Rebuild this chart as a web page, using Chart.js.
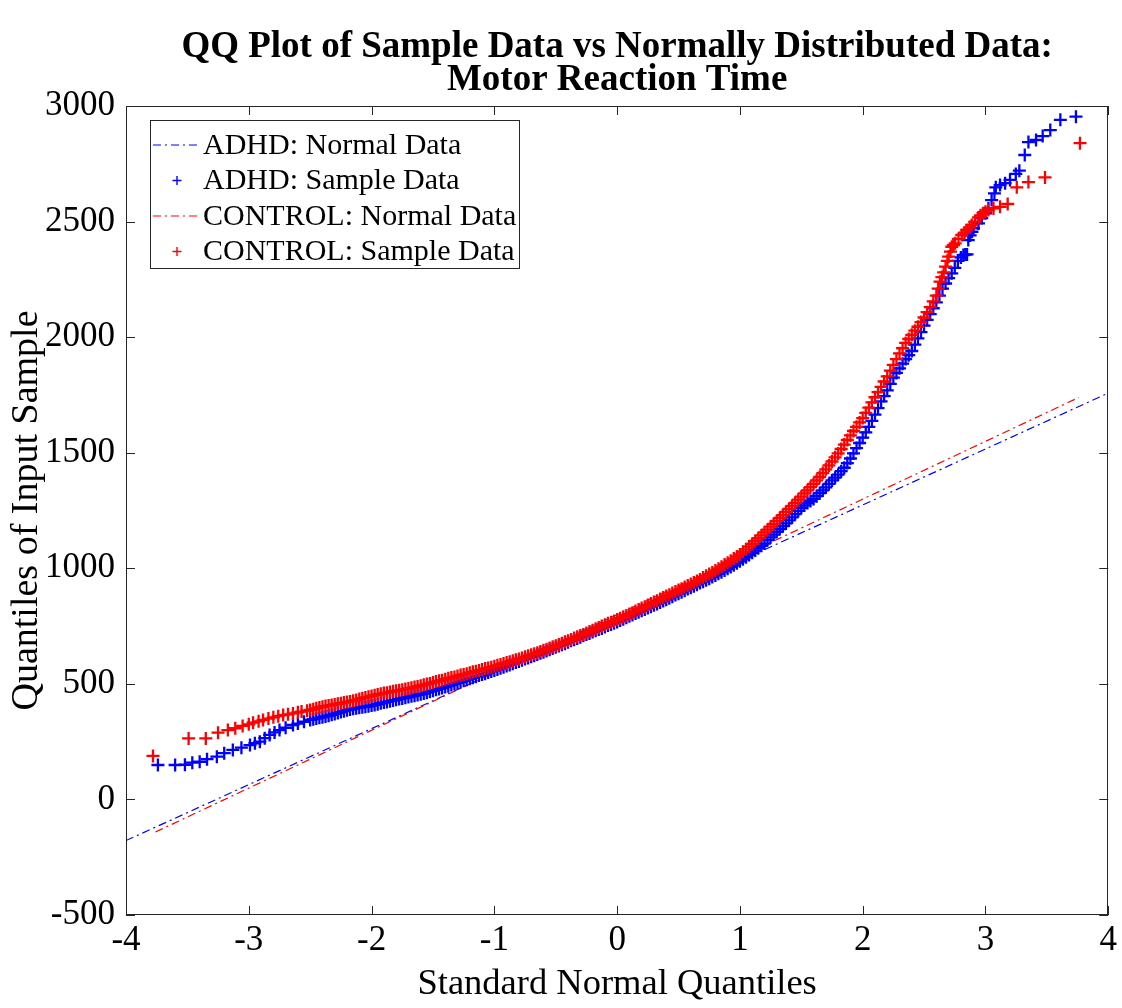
<!DOCTYPE html>
<html><head><meta charset="utf-8">
<script src="https://cdn.jsdelivr.net/npm/chart.js@4/dist/chart.umd.min.js"></script>
<style>html,body{margin:0;padding:0;background:#fff}#wrap{width:1122px;height:1008px;position:relative}</style>
</head><body><div id="wrap"><canvas id="c" width="1122" height="1008"></canvas></div>
<script>
// ---------- DATA ----------
const titleLines = ["QQ Plot of Sample Data vs Normally Distributed Data:", "Motor Reaction Time"];
const xAxisTitle = "Standard Normal Quantiles";
const yAxisTitle = "Quantiles of Input Sample";
const xTickValues = [-4, -3, -2, -1, 0, 1, 2, 3, 4];
const xTickLabels = ["-4", "-3", "-2", "-1", "0", "1", "2", "3", "4"];
const yTickValues = [-500, 0, 500, 1000, 1500, 2000, 2500, 3000];
const yTickLabels = ["-500", "0", "500", "1000", "1500", "2000", "2500", "3000"];
const seriesLabels = ["ADHD: Normal Data", "ADHD: Sample Data", "CONTROL: Normal Data", "CONTROL: Sample Data"];

// Reference (normal) lines
const adhdLineX = [-4, 4];
const adhdLineY = [-178, 1758];
const controlLineX = [-3.76, 3.76];
const controlLineY = [-141, 1739];

// ADHD sample quantiles (lower tail, body, upper part)
const adhdLowX = [-3.74,-3.60,-3.52,-3.46,-3.40,-3.34,-3.26,-3.20,-3.13,-3.06,-2.99,-2.95,-2.91,-2.87,-2.83,-2.79,-2.75,-2.70,-2.64,-2.60,-2.55,-2.50];
const adhdLowY = [149,149,150,159,163,174,185,200,214,224,235,243,250,265,279,290,300,310,322,328,336,344];
const adhdBodyX = [
-2.475,-2.45,-2.425,-2.40,-2.375,-2.35,-2.325,-2.30,-2.275,-2.25,
-2.225,-2.20,-2.175,-2.15,-2.125,-2.10,-2.075,-2.05,-2.025,-2.00,
-1.975,-1.95,-1.925,-1.90,-1.875,-1.85,-1.825,-1.80,-1.775,-1.75,
-1.725,-1.70,-1.675,-1.65,-1.625,-1.60,-1.575,-1.55,-1.525,-1.50,
-1.475,-1.45,-1.425,-1.40,-1.375,-1.35,-1.325,-1.30,-1.275,-1.25,
-1.225,-1.20,-1.175,-1.15,-1.125,-1.10,-1.075,-1.05,-1.025,-1.00,
-0.975,-0.95,-0.925,-0.90,-0.875,-0.85,-0.825,-0.80,-0.775,-0.75,
-0.725,-0.70,-0.675,-0.65,-0.625,-0.60,-0.575,-0.55,-0.525,-0.50,
-0.475,-0.45,-0.425,-0.40,-0.375,-0.35,-0.325,-0.30,-0.275,-0.25,
-0.225,-0.20,-0.175,-0.15,-0.125,-0.10,-0.075,-0.05,-0.025,0.00,
0.025,0.05,0.075,0.10,0.125,0.15,0.175,0.20,0.225,0.25,
0.275,0.30,0.325,0.35,0.375,0.40,0.425,0.45,0.475,0.50,
0.525,0.55,0.575,0.60,0.625,0.65,0.675,0.70,0.725,0.75,
0.775,0.80,0.825,0.85,0.875,0.90,0.925,0.95,0.975,1.00,
1.025,1.05,1.075,1.10,1.125,1.15,1.175,1.20];
const adhdBodyY = [
347,350,353,356,359,362,366,370,374,378,
382,386,389,392,395,397,399,401,403,406,
409,412,416,419,422,425,428,431,434,437,
440,443,446,449,452,455,458,462,466,470,
474,478,482,486,490,495,500,504,508,513,
518,522,526,531,536,540,544,549,554,558,
562,567,572,577,582,587,592,597,602,607,
612,617,622,627,632,637,642,648,653,658,
664,669,674,680,686,691,696,702,708,713,
718,724,730,735,740,746,752,757,762,768,
774,780,786,792,798,804,810,816,822,828,
834,840,846,852,858,864,870,877,884,890,
896,903,910,916,922,929,936,942,948,955,
962,969,976,983,990,998,1006,1013,1022,1030,
1039,1048,1058,1067,1077,1087,1097,1107];
const adhdHighX = [
1.225,1.25,1.275,1.30,1.325,1.35,1.375,1.40,1.425,1.45,
1.475,1.50,1.525,1.55,1.575,1.60,1.625,1.65,1.675,1.70,
1.725,1.75,1.775,1.80,1.825,1.85,1.875,1.90,1.925,1.95,
1.975,2.00,2.025,2.05,2.075,2.10,2.125,2.15,2.175,2.20,
2.225,2.25,2.275,2.30,2.325,2.35,2.375,2.40,2.425,2.45,
2.475,2.50,2.525,2.55,2.575,2.60,2.625,2.65,2.675,2.70,
2.725,2.75,2.775,
2.80,2.82,2.835,2.85,2.86,2.875,2.89,2.902,2.943,2.97,3.00,3.024,3.05,3.073,3.084,3.119,3.16,3.20,3.247,3.276,3.32,3.35,3.412,3.466,3.528,3.61,3.737];
const adhdHighY = [
1122,1134,1146,1158,1170,1182,1194,1207,1220,1234,
1248,1262,1272,1282,1291,1300,1312,1325,1337,1350,
1365,1380,1392,1405,1420,1435,1455,1475,1497,1520,
1542,1565,1588,1612,1638,1665,1693,1722,1745,1770,
1798,1825,1845,1865,1885,1905,1922,1940,1968,1995,
2022,2050,2075,2100,2125,2150,2180,2210,2232,2255,
2276,2300,2330,
2345,2355,2357,2358,2420,2440,2456,2471,2492,2515,2536,2557,2593,2622,2648,2658,2666,2680,2706,2720,2788,2844,2853,2870,2896,2940,2954];

// CONTROL sample quantiles (lower tail, body, upper part)
const controlLowX = [-3.78,-3.49,-3.35,-3.25,-3.17,-3.11,-3.05,-3.00,-2.965,-2.92,-2.884,-2.84,-2.80,-2.76,-2.72,-2.68,-2.64,-2.60,-2.57];
const controlLowY = [188,264,264,289,300,308,318,325,332,338,344,350,355,360,365,368,372,377,380];
const controlBodyX = [
-2.525,-2.50,-2.475,-2.45,-2.425,-2.40,-2.375,-2.35,-2.325,-2.30,
-2.275,-2.25,-2.225,-2.20,-2.175,-2.15,-2.125,-2.10,-2.075,-2.05,
-2.025,-2.00,-1.975,-1.95,-1.925,-1.90,-1.875,-1.85,-1.825,-1.80,
-1.775,-1.75,-1.725,-1.70,-1.675,-1.65,-1.625,-1.60,-1.575,-1.55,
-1.525,-1.50,-1.475,-1.45,-1.425,-1.40,-1.375,-1.35,-1.325,-1.30,
-1.275,-1.25,-1.225,-1.20,-1.175,-1.15,-1.125,-1.10,-1.075,-1.05,
-1.025,-1.00,-0.975,-0.95,-0.925,-0.90,-0.875,-0.85,-0.825,-0.80,
-0.775,-0.75,-0.725,-0.70,-0.675,-0.65,-0.625,-0.60,-0.575,-0.55,
-0.525,-0.50,-0.475,-0.45,-0.425,-0.40,-0.375,-0.35,-0.325,-0.30,
-0.275,-0.25,-0.225,-0.20,-0.175,-0.15,-0.125,-0.10,-0.075,-0.05,
-0.025,0.00,0.025,0.05,0.075,0.10,0.125,0.15,0.175,0.20,
0.225,0.25,0.275,0.30,0.325,0.35,0.375,0.40,0.425,0.45,
0.475,0.50,0.525,0.55,0.575,0.60,0.625,0.65,0.675,0.70,
0.725,0.75,0.775,0.80,0.825,0.85,0.875,0.90,0.925,0.95,
0.975,1.00,1.025,1.05,1.075,1.10,1.125,1.15,1.175,1.20];
const controlBodyY = [
384,387,390,394,398,401,404,406,408,411,
414,416,419,422,424,427,430,434,438,441,
444,448,451,454,457,460,462,465,468,470,
472,475,478,480,483,486,489,492,496,499,
502,506,510,513,516,520,524,527,530,534,
538,541,544,548,552,555,558,562,566,569,
572,576,580,584,588,592,596,600,604,608,
612,617,622,626,630,635,640,645,650,655,
660,665,670,676,682,687,692,698,704,709,
714,720,726,732,738,744,750,756,762,767,
772,778,784,790,796,802,808,815,822,828,
834,841,848,854,860,867,874,880,886,893,
900,906,912,919,926,932,938,945,952,960,
968,975,982,990,998,1007,1016,1024,1033,1042,
1051,1060,1071,1082,1094,1105,1118,1130,1142,1155];
const controlHighX = [
1.225,1.25,1.275,1.30,1.325,1.35,1.375,1.40,1.425,1.45,
1.475,1.50,1.525,1.55,1.575,1.60,1.625,1.65,1.675,1.70,
1.725,1.75,1.775,1.80,1.825,1.85,1.875,1.90,1.925,1.95,
1.975,2.00,2.025,2.05,2.075,2.10,2.125,2.15,2.175,2.20,
2.225,2.25,2.275,2.30,2.325,2.35,2.375,2.40,2.425,2.45,
2.475,2.50,2.525,2.55,2.575,2.60,
2.615,2.63,2.645,2.66,2.675,2.69,2.70,2.715,2.726,2.74,2.753,2.78,2.807,2.83,2.848,2.87,2.888,2.915,2.943,2.96,2.98,3.00,3.024,3.065,3.119,3.181,3.255,3.35,3.485,3.77];
const controlHighY = [
1167,1180,1192,1205,1218,1230,1244,1257,1270,1283,
1297,1310,1324,1337,1351,1365,1380,1395,1412,1428,
1445,1462,1480,1497,1516,1535,1555,1575,1594,1612,
1631,1650,1672,1695,1718,1740,1762,1785,1808,1830,
1855,1880,1905,1930,1952,1975,1992,2010,2028,2045,
2065,2085,2108,2130,2155,2180,
2210,2240,2260,2280,2305,2330,2348,2370,2391,2398,2406,2425,2442,2452,2463,2474,2485,2500,2518,2527,2536,2543,2550,2557,2564,2576,2648,2671,2691,2839];

// ---------- CHART ----------
const zip = (xs, ys) => xs.map((x, i) => ({x: x, y: ys[i]}));
const FONT = "'Liberation Serif','Times New Roman',serif";
const AX = '#262626';
const BLUE = 'rgb(0,0,255)';
const RED = 'rgb(255,0,0)';
const DASH = [8, 4, 2, 4];

const adhdPts = zip(adhdLowX, adhdLowY).concat(zip(adhdBodyX, adhdBodyY), zip(adhdHighX, adhdHighY));
const controlPts = zip(controlLowX, controlLowY).concat(zip(controlBodyX, controlBodyY), zip(controlHighX, controlHighY));

const markerOpts = {showLine: false, pointStyle: 'cross', pointRadius: 6.5, pointHoverRadius: 6.5, pointBorderWidth: 2.3};
const datasets = [
  Object.assign({label: seriesLabels[3], key: 'cs', data: controlPts, borderColor: RED, backgroundColor: RED}, markerOpts),
  Object.assign({label: seriesLabels[1], key: 'as', data: adhdPts, borderColor: BLUE, backgroundColor: BLUE}, markerOpts),
  {label: seriesLabels[2], key: 'cn', data: zip(controlLineX, controlLineY), showLine: true, pointRadius: 0, borderWidth: 1.2, borderDash: DASH, borderColor: RED, backgroundColor: RED},
  {label: seriesLabels[0], key: 'an', data: zip(adhdLineX, adhdLineY), showLine: true, pointRadius: 0, borderWidth: 1.2, borderDash: DASH, borderColor: BLUE, backgroundColor: BLUE}
];
const legendOrder = ['an', 'as', 'cn', 'cs'];

const framePlugin = {
  id: 'frame',
  afterDraw(chart) {
    const {ctx, chartArea: a, scales} = chart;
    ctx.save();
    ctx.strokeStyle = AX; ctx.lineWidth = 1;
    ctx.strokeRect(Math.round(a.left) + 0.5, Math.round(a.top) + 0.5, Math.round(a.right - a.left) - 1, Math.round(a.bottom - a.top) - 1);
    const TL = 9;
    ctx.beginPath();
    xTickValues.forEach(v => {
      const px = Math.round(scales.x.getPixelForValue(v)) + 0.5;
      ctx.moveTo(px, a.bottom); ctx.lineTo(px, a.bottom - TL);
      ctx.moveTo(px, a.top); ctx.lineTo(px, a.top + TL);
    });
    yTickValues.forEach(v => {
      const py = Math.round(scales.y.getPixelForValue(v)) + 0.5;
      ctx.moveTo(a.left, py); ctx.lineTo(a.left + TL, py);
      ctx.moveTo(a.right, py); ctx.lineTo(a.right - TL, py);
    });
    ctx.stroke();

    // Title
    ctx.fillStyle = '#000';
    ctx.font = 'bold 37px ' + FONT;
    ctx.textAlign = 'center'; ctx.textBaseline = 'alphabetic';
    const cx = (a.left + a.right) / 2;
    ctx.fillText(titleLines[0], cx, 57);
    ctx.fillText(titleLines[1], cx, 90);

    // Legend
    const bx = a.left + 24, by = a.top + 14, bw = 369, bh = 148;
    ctx.fillStyle = '#fff';
    ctx.fillRect(bx, by, bw, bh);
    ctx.strokeStyle = AX; ctx.lineWidth = 1;
    ctx.strokeRect(bx + 0.5, by + 0.5, bw, bh);
    ctx.font = '30px ' + FONT;
    ctx.textAlign = 'left'; ctx.textBaseline = 'middle';
    legendOrder.forEach((k, i) => {
      const ds = chart.data.datasets.find(d => d.key === k);
      const yy = by + 25 + i * 35.5;
      if (ds.showLine) {
        ctx.save();
        ctx.strokeStyle = ds.borderColor; ctx.lineWidth = 1.2; ctx.setLineDash(DASH);
        ctx.beginPath(); ctx.moveTo(bx + 3, yy); ctx.lineTo(bx + 48, yy); ctx.stroke();
        ctx.restore();
      } else {
        ctx.save();
        ctx.strokeStyle = ds.borderColor; ctx.lineWidth = 1.4;
        ctx.beginPath();
        ctx.moveTo(bx + 27 - 4.5, yy); ctx.lineTo(bx + 27 + 4.5, yy);
        ctx.moveTo(bx + 27, yy - 4.5); ctx.lineTo(bx + 27, yy + 4.5);
        ctx.stroke();
        ctx.restore();
      }
      ctx.fillStyle = '#000';
      ctx.fillText(ds.label, bx + 53, yy + 1);
    });
    ctx.restore();
  }
};

new Chart(document.getElementById('c'), {
  type: 'scatter',
  data: {datasets: datasets},
  options: {
    responsive: false,
    animation: false,
    devicePixelRatio: 1,
    events: [],
    layout: {padding: {top: 106, right: 12, left: 0, bottom: 0}},
    plugins: {legend: {display: false}, tooltip: {enabled: false}, title: {display: false}},
    scales: {
      x: {
        type: 'linear', min: -4, max: 4,
        afterBuildTicks: s => { s.ticks = xTickValues.map(v => ({value: v})); },
        afterFit: s => { s.height = 93; },
        grid: {display: false, drawTicks: false},
        border: {display: false},
        ticks: {color: '#000', font: {family: FONT, size: 35}, padding: 5, maxRotation: 0, autoSkip: false,
                callback: v => xTickLabels[xTickValues.indexOf(v)]},
        title: {display: true, text: xAxisTitle, color: '#000', font: {family: FONT, size: 36.5}, padding: {top: 0, bottom: 2}}
      },
      y: {
        type: 'linear', min: -500, max: 3000,
        afterBuildTicks: s => { s.ticks = yTickValues.map(v => ({value: v})); },
        afterFit: s => { s.width = 126; },
        grid: {display: false, drawTicks: false},
        border: {display: false},
        ticks: {color: '#000', font: {family: FONT, size: 35}, padding: 11, autoSkip: false,
                callback: v => yTickLabels[yTickValues.indexOf(v)]},
        title: {display: true, text: yAxisTitle, color: '#000', font: {family: FONT, size: 38}, padding: {top: 4, bottom: 0}}
      }
    }
  },
  plugins: [framePlugin]
});
</script></body></html>
